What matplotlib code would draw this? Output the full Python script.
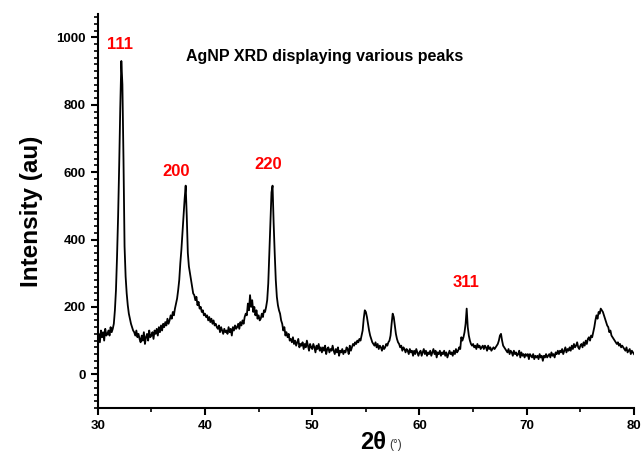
import numpy as np
import matplotlib
matplotlib.use("Agg")
import matplotlib.pyplot as plt
from matplotlib.ticker import MultipleLocator

plt.rcParams['font.family'] = ['Liberation Sans', 'DejaVu Sans']

# 2theta from 30 to 80 deg in 0.1 deg steps, intensities
two_theta = np.round(np.arange(300, 801) / 10.0, 1)
intensity = [
    105, 120, 95, 130, 110, 125, 100, 135, 115, 120,      # 30
    130, 115, 140, 125, 135, 150, 190, 250, 350, 470,     # 31
    620, 790, 930, 860, 640, 380, 290, 240, 205, 180,     # 32
    165, 150, 140, 130, 125, 115, 130, 110, 120, 105,     # 33
    95, 115, 100, 125, 90, 110, 120, 100, 130, 110,       # 34
    115, 125, 105, 130, 120, 135, 115, 140, 125, 145,     # 35
    130, 150, 140, 155, 145, 165, 150, 160, 175, 165,     # 36
    185, 175, 195, 210, 225, 250, 280, 330, 370, 420,     # 37
    470, 520, 560, 470, 360, 320, 300, 280, 260, 240,     # 38
    235, 220, 230, 205, 215, 195, 200, 185, 190, 175,     # 39
    180, 170, 175, 160, 170, 155, 165, 150, 160, 145,     # 40
    150, 140, 135, 145, 125, 140, 130, 120, 135, 125,     # 41
    130, 120, 140, 125, 135, 115, 140, 130, 145, 135,     # 42
    140, 150, 135, 155, 145, 160, 150, 170, 180, 175,     # 43
    210, 190, 235, 200, 220, 185, 200, 175, 190, 165,     # 44
    175, 160, 165, 180, 170, 190, 185, 200, 220, 270,     # 45
    360, 450, 540, 560, 450, 360, 280, 230, 205, 190,     # 46
    180, 160, 150, 130, 140, 115, 125, 110, 120, 100,     # 47
    105, 95, 110, 90, 100, 85, 95, 105, 80, 90,           # 48
    85, 95, 75, 90, 80, 100, 85, 70, 90, 80,              # 49
    75, 90, 80, 65, 85, 75, 90, 70, 80, 65,               # 50
    80, 70, 85, 60, 75, 80, 65, 75, 70, 85,               # 51
    70, 60, 75, 65, 80, 55, 70, 65, 75, 60,               # 52
    70, 65, 80, 75, 60, 85, 70, 80, 90, 85,               # 53
    95, 90, 100, 95, 105, 100, 115, 130, 165, 190,        # 54
    185, 170, 150, 130, 115, 105, 95, 90, 85, 95,         # 55
    80, 90, 75, 85, 80, 70, 85, 75, 80, 90,               # 56
    85, 95, 100, 115, 150, 180, 170, 145, 120, 105,       # 57
    95, 90, 80, 85, 70, 80, 75, 65, 75, 70,               # 58
    60, 75, 65, 70, 55, 70, 60, 75, 65, 55,               # 59
    65, 70, 55, 65, 75, 60, 70, 55, 65, 60,               # 60
    70, 55, 65, 75, 60, 70, 50, 65, 60, 70,               # 61
    55, 65, 60, 70, 55, 65, 50, 60, 70, 60,               # 62
    65, 55, 70, 60, 75, 65, 70, 80, 75, 110,              # 63
    100, 110, 125, 150, 195, 140, 115, 100, 90, 85,       # 64
    90, 80, 85, 75, 90, 80, 85, 75, 80, 85,               # 65
    75, 85, 80, 70, 85, 75, 80, 70, 75, 80,               # 66
    75, 80, 85, 90, 100, 115, 120, 100, 85, 80,           # 67
    75, 70, 65, 75, 60, 70, 65, 55, 70, 60,               # 68
    65, 55, 60, 70, 50, 65, 55, 60, 50, 60,               # 69
    55, 60, 45, 60, 55, 50, 60, 45, 55, 50,               # 70
    55, 45, 60, 50, 55, 40, 55, 50, 60, 50,               # 71
    55, 60, 50, 65, 55, 60, 50, 65, 60, 70,               # 72
    60, 70, 65, 75, 60, 70, 80, 65, 75, 70,               # 73
    80, 70, 85, 75, 90, 80, 85, 95, 80, 75,               # 74
    85, 90, 80, 95, 85, 100, 90, 105, 110, 100,           # 75
    115, 110, 125, 140, 160, 175, 165, 185, 180, 195,     # 76
    190, 185, 175, 165, 155, 145, 140, 125, 130, 115,     # 77
    110, 105, 100, 95, 90, 95, 85, 90, 80, 85,            # 78
    80, 75, 70, 80, 65, 70, 75, 60, 70, 65,               # 79
    60,                                                   # 80
]

peak_labels = ["111", "200", "220", "311"]
peak_x = [32.1, 37.3, 45.9, 64.3]
peak_y = [980, 603, 623, 273]

fig = plt.figure(figsize=(6.43, 4.61), dpi=100)
ax = fig.add_axes([0.152, 0.115, 0.834, 0.855])

ax.plot(two_theta, intensity, color='black', linewidth=1.3)

for lab, px, py in zip(peak_labels, peak_x, peak_y):
    ax.text(px, py, lab, color='red', fontsize=12, fontweight='bold',
            ha='center', va='center')

ax.text(51.2, 943, "AgNP XRD displaying various peaks", fontsize=11.5,
        fontweight='bold', ha='center', va='center')

ax.set_xlim(30, 80)
ax.set_ylim(-100, 1070)
ax.xaxis.set_major_locator(MultipleLocator(10))
ax.xaxis.set_minor_locator(MultipleLocator(5))
ax.yaxis.set_major_locator(MultipleLocator(200))
ax.yaxis.set_minor_locator(MultipleLocator(20))
ax.set_yticks([0, 200, 400, 600, 800, 1000])

ax.spines['top'].set_visible(False)
ax.spines['right'].set_visible(False)
ax.spines['left'].set_linewidth(1.5)
ax.spines['bottom'].set_linewidth(1.5)
ax.tick_params(which='major', direction='out', length=5, width=1.5, labelsize=9.5)
ax.tick_params(which='minor', direction='out', length=3, width=1.2)
for lbl in ax.get_xticklabels() + ax.get_yticklabels():
    lbl.set_fontweight('bold')

ax.set_ylabel("Intensity (au)", fontsize=17.5, fontweight='bold', labelpad=10)
fig.text(0.6, 0.04, "2θ", fontsize=17, fontweight='bold', ha='right', va='center')
fig.text(0.605, 0.035, "(°)", fontsize=8.5, color='#333333', ha='left', va='center')

fig.savefig("out.png", dpi=100)
